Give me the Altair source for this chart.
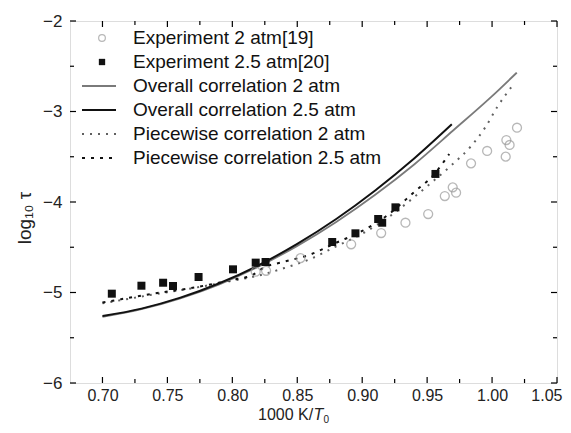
import altair as alt
import pandas as pd

# ---------------- data ----------------
# Experiment 2 atm [19] (open circles)
exp2_x = [0.818, 0.826, 0.8525, 0.8915, 0.9146, 0.9333, 0.9508, 0.9636, 0.9697, 0.9723,
          0.9838, 0.9962, 1.0105, 1.011, 1.0135, 1.0192]
exp2_y = [-4.77, -4.76, -4.62, -4.467, -4.343, -4.229, -4.133, -3.934, -3.838, -3.897,
          -3.573, -3.436, -3.499, -3.315, -3.37, -3.179]

# Experiment 2.5 atm [20] (filled squares)
exp25_x = [0.7072, 0.730, 0.7467, 0.7543, 0.774, 0.8005, 0.818, 0.8256, 0.8769, 0.8948,
           0.9123, 0.9154, 0.9256, 0.9564]
exp25_y = [-5.013, -4.925, -4.892, -4.928, -4.829, -4.744, -4.67, -4.663, -4.442, -4.346,
           -4.188, -4.229, -4.059, -3.69]

# Overall correlation 2 atm (grey solid)
ov2_x = [0.70, 0.73, 0.76, 0.79, 0.82, 0.85, 0.88, 0.91, 0.94, 0.97, 1.00, 1.019]
ov2_y = [-5.27, -5.185, -5.065, -4.91, -4.715, -4.485, -4.22, -3.92, -3.585, -3.21, -2.83, -2.571]

# Overall correlation 2.5 atm (black solid)
ov25_x = [0.70, 0.73, 0.76, 0.79, 0.82, 0.85, 0.88, 0.91, 0.94, 0.969]
ov25_y = [-5.26, -5.178, -5.057, -4.898, -4.70, -4.463, -4.188, -3.873, -3.52, -3.142]

# Piecewise correlation 2 atm (grey dotted)
pw2_x = [0.70, 0.72, 0.74, 0.76, 0.78, 0.80, 0.815, 0.84, 0.86, 0.88, 0.90, 0.92, 0.938,
         0.953, 0.969, 0.984, 0.995, 1.004, 1.0154]
pw2_y = [-5.12, -5.07, -5.02, -4.975, -4.925, -4.87, -4.83, -4.73, -4.63, -4.49, -4.35, -4.17,
         -3.97, -3.79, -3.59, -3.38, -3.17, -2.95, -2.72]

# Piecewise correlation 2.5 atm (black dotted)
pw25_x = [0.70, 0.72, 0.74, 0.76, 0.78, 0.80, 0.815, 0.825, 0.84, 0.86, 0.88, 0.90, 0.92,
          0.94, 0.955, 0.967]
pw25_y = [-5.11, -5.06, -5.01, -4.97, -4.92, -4.86, -4.81, -4.72, -4.66, -4.58, -4.45, -4.32,
          -4.14, -3.89, -3.70, -3.47]

# axis ticks
x_major = [0.70, 0.75, 0.80, 0.85, 0.90, 0.95, 1.00, 1.05]
x_minor = [0.725, 0.775, 0.825, 0.875, 0.925, 0.975, 1.025]
y_major = [-6, -5, -4, -3, -2]
y_minor = [-5.5, -4.5, -3.5, -2.5]

legend_labels = ["Experiment 2 atm[19]", "Experiment 2.5 atm[20]",
                 "Overall correlation 2 atm", "Overall correlation 2.5 atm",
                 "Piecewise correlation 2 atm", "Piecewise correlation 2.5 atm"]

# ---------------- chart ----------------
W, H = 487, 362
FONT = "Liberation Sans"
XS = alt.Scale(domain=[0.675, 1.05], nice=False, zero=False)
YS = alt.Scale(domain=[-6, -2], nice=False, zero=False)

GREY_LINE = "#7a7a7a"
GREY_DOT = "#606060"
GREY_PT = "#9a9a9a"
BLACK = "#111111"

AX = alt.Axis(values=x_major, format=".2f", ticks=False, grid=False, domain=False,
              labelFont=FONT, labelFontSize=16, labelColor="#222", labelPadding=4,
              labelFlush=True, labelFlushOffset=5, labelOverlap=False, title=None)
AY = alt.Axis(values=y_major, format="d", ticks=False, grid=False, domain=False,
              labelFont=FONT, labelFontSize=17, labelColor="#222", labelPadding=8,
              labelFlush=False, labelOverlap=False, title=None)


def X(f="x"):
    return alt.X(f + ":Q", scale=XS, axis=AX)


def Y(f="y"):
    return alt.Y(f + ":Q", scale=YS, axis=AY)


def line_layer(xs, ys, color, width, dash=None):
    df = pd.DataFrame({"x": xs, "y": ys})
    kw = dict(color=color, strokeWidth=width, interpolate="monotone", clip=True)
    if dash:
        kw["strokeDash"] = dash
    return alt.Chart(df).mark_line(**kw).encode(x=X(), y=Y())


pts2 = alt.Chart(pd.DataFrame({"x": exp2_x, "y": exp2_y})).mark_point(
    shape="circle", filled=False, size=80, color=GREY_PT, strokeWidth=1.3
).encode(x=X(), y=Y())

pts25 = alt.Chart(pd.DataFrame({"x": exp25_x, "y": exp25_y})).mark_point(
    shape="square", filled=True, size=64, color=BLACK, opacity=1
).encode(x=X(), y=Y())

l_ov2 = line_layer(ov2_x, ov2_y, GREY_LINE, 1.8)
l_ov25 = line_layer(ov25_x, ov25_y, BLACK, 2.0)
l_pw2 = line_layer(pw2_x, pw2_y, GREY_DOT, 2.0, [2, 6])
l_pw25 = line_layer(pw25_x, pw25_y, BLACK, 2.0, [3, 6])

one = pd.DataFrame({"a": [0]})


# inward tick marks on all four sides
def xticks(vals, ln):
    d = pd.DataFrame({"v": vals})
    b = alt.Chart(d).mark_rule(color="black", strokeWidth=1.2).encode(
        x=X("v"), y=alt.value(H), y2=alt.value(H - ln))
    t = alt.Chart(d).mark_rule(color="black", strokeWidth=1.2).encode(
        x=X("v"), y=alt.value(0), y2=alt.value(ln))
    return b + t


def yticks(vals, ln):
    d = pd.DataFrame({"v": vals})
    l = alt.Chart(d).mark_rule(color="black", strokeWidth=1.2).encode(
        y=Y("v"), x=alt.value(0), x2=alt.value(ln))
    r = alt.Chart(d).mark_rule(color="black", strokeWidth=1.2).encode(
        y=Y("v"), x=alt.value(W), x2=alt.value(W - ln))
    return l + r


ticks = xticks(x_major, 6) + xticks(x_minor, 4) + yticks(y_major, 6) + yticks(y_minor, 4)

# legend (manual, top-left inside plot)
leg = []
row0, dy = 17, 24
for i, lab in enumerate(legend_labels):
    yy = row0 + dy * i
    leg.append(alt.Chart(one).mark_text(align="left", baseline="middle", font=FONT,
                                        fontSize=19, color="#111").encode(
        x=alt.value(63), y=alt.value(yy), text=alt.value(lab)))
leg.append(alt.Chart(one).mark_point(shape="circle", filled=False, size=45, color=GREY_PT,
                                     strokeWidth=1.2).encode(x=alt.value(32), y=alt.value(row0)))
leg.append(alt.Chart(one).mark_point(shape="square", filled=True, size=40, color=BLACK,
                                     opacity=1).encode(x=alt.value(32), y=alt.value(row0 + dy)))
leg_styles = [(GREY_LINE, 1.8, None), (BLACK, 2.2, None), (GREY_DOT, 2.0, [2, 6]), (BLACK, 2.0, [3, 6])]
for k, (c, w, d) in enumerate(leg_styles):
    kw = dict(color=c, strokeWidth=w)
    if d:
        kw["strokeDash"] = d
    leg.append(alt.Chart(one).mark_rule(**kw).encode(
        x=alt.value(12), x2=alt.value(46), y=alt.value(row0 + dy * (k + 2))))

# axis titles
xt1 = alt.Chart(one).mark_text(align="left", baseline="alphabetic", font=FONT, fontSize=16,
                               color="#222").encode(x=alt.value(188), y=alt.value(399),
                                                    text=alt.value("1000 K/"))
xt2 = alt.Chart(one).mark_text(align="left", baseline="alphabetic", font=FONT, fontSize=16,
                               fontStyle="italic", color="#222").encode(
    x=alt.value(243.5), y=alt.value(399), text=alt.value("T"))
xt3 = alt.Chart(one).mark_text(align="left", baseline="alphabetic", font=FONT, fontSize=10,
                               color="#222").encode(x=alt.value(253.5), y=alt.value(401.5),
                                                    text=alt.value("0"))
yt = alt.Chart(one).mark_text(align="center", baseline="middle", font=FONT, fontSize=19,
                              angle=270, color="#222").encode(
    x=alt.value(-45), y=alt.value(197), text=alt.value("log₁₀ τ"))

chart = alt.layer(
    ticks, l_pw2, l_pw25, l_ov2, l_ov25, pts2, pts25, *leg, xt1, xt2, xt3, yt
).properties(
    width=W, height=H,
    padding={"left": 62, "top": 13, "right": 6, "bottom": 42},
    autosize=alt.AutoSizeParams(type="none"),
).configure_view(stroke="black", strokeWidth=1.5).configure(background="white")

chart.save("out.html", embed_options={"renderer": "svg", "actions": False})
